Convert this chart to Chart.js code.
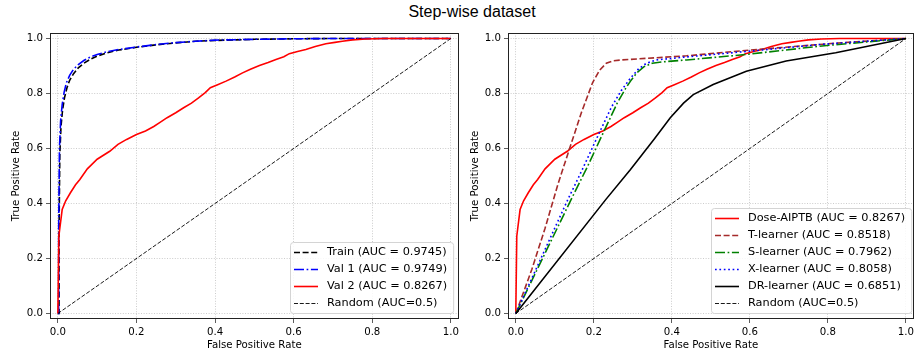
<!DOCTYPE html>
<html>
<head>
<meta charset="utf-8">
<title>Step-wise dataset</title>
<script src="https://cdn.jsdelivr.net/npm/chart.js@4.4.1/dist/chart.umd.min.js"></script>
<style>
  html, body { margin: 0; padding: 0; background: #fff; overflow: hidden; }
  #wrap { position: relative; width: 917px; height: 356px; }
  #title { position: absolute; left: 372px; width: 200px; top: 3px; line-height: 18px;
           text-align: center; font: 16px 'Liberation Sans', Arial, sans-serif; color: #000; }
  canvas { position: absolute; top: 0; }
</style>
</head>
<body>
<div id="wrap">
  <div id="title">Step-wise dataset</div>
  <canvas id="left" width="462" height="356" style="left:0"></canvas>
  <canvas id="right" width="455" height="356" style="left:462px"></canvas>
</div>
<script>
const tickValues = [0, 0.2, 0.4, 0.6, 0.8, 1.0];

const randomFpr = [0, 1];
const randomTpr = [0, 1];

const trainFpr = [0, 0.003, 0.003, 0.005, 0.008, 0.012, 0.017, 0.023, 0.03, 0.04, 0.052, 0.066, 0.082, 0.1, 0.125, 0.155, 0.2, 0.25, 0.3, 0.35, 0.4, 0.5, 0.6, 0.7, 0.85, 1.0];
const trainTpr = [0, 0, 0.3, 0.58, 0.68, 0.74, 0.785, 0.82, 0.848, 0.872, 0.893, 0.91, 0.924, 0.936, 0.948, 0.958, 0.968, 0.977, 0.984, 0.99, 0.993, 0.997, 0.999, 1.0, 1.0, 1.0];

const val1Fpr = [0, 0.002, 0.002, 0.004, 0.007, 0.011, 0.016, 0.022, 0.03, 0.04, 0.052, 0.066, 0.082, 0.1, 0.125, 0.155, 0.2, 0.25, 0.3, 0.35, 0.4, 0.5, 0.6, 0.7, 0.85, 1.0];
const val1Tpr = [0, 0, 0.3, 0.6, 0.7, 0.76, 0.805, 0.84, 0.866, 0.888, 0.905, 0.92, 0.932, 0.942, 0.952, 0.96, 0.969, 0.978, 0.985, 0.99, 0.994, 0.997, 0.999, 1.0, 1.0, 1.0];

// Val 2 and Dose-AIPTB are the same curve
const val2Fpr = [0, 0.0025, 0.005, 0.011, 0.02, 0.032, 0.045, 0.056, 0.075, 0.1, 0.132, 0.153, 0.175, 0.2, 0.223, 0.244, 0.26, 0.278, 0.3, 0.32, 0.34, 0.358, 0.375, 0.388, 0.405, 0.428, 0.45, 0.47, 0.49, 0.513, 0.535, 0.555, 0.575, 0.589, 0.61, 0.631, 0.655, 0.682, 0.705, 0.724, 0.75, 0.783, 0.83, 0.9, 1.0];
const val2Tpr = [0, 0.281, 0.31, 0.378, 0.41, 0.439, 0.468, 0.487, 0.526, 0.561, 0.59, 0.615, 0.633, 0.651, 0.664, 0.68, 0.695, 0.712, 0.73, 0.748, 0.765, 0.784, 0.803, 0.821, 0.831, 0.845, 0.86, 0.875, 0.888, 0.902, 0.913, 0.924, 0.934, 0.945, 0.953, 0.96, 0.971, 0.981, 0.986, 0.99, 0.995, 0.998, 1.0, 1.0, 1.0];

const tFpr = [0, 0.041, 0.075, 0.108, 0.137, 0.168, 0.197, 0.215, 0.232, 0.25, 0.27, 0.438, 0.6, 0.82, 1.0];
const tTpr = [0, 0.16, 0.31, 0.47, 0.596, 0.73, 0.84, 0.885, 0.91, 0.919, 0.922, 0.937, 0.958, 0.983, 1.0];

const sFpr = [0, 0.142, 0.184, 0.225, 0.26, 0.28, 0.294, 0.31, 0.328, 0.35, 0.375, 0.438, 0.591, 0.778, 1.0];
const sTpr = [0, 0.415, 0.535, 0.66, 0.765, 0.815, 0.845, 0.875, 0.897, 0.91, 0.915, 0.922, 0.942, 0.972, 1.0];

const xFpr = [0, 0.132, 0.171, 0.214, 0.245, 0.27, 0.294, 0.315, 0.335, 0.36, 0.438, 0.6, 0.778, 1.0];
const xTpr = [0, 0.41, 0.525, 0.657, 0.75, 0.81, 0.856, 0.89, 0.91, 0.922, 0.933, 0.954, 0.978, 1.0];

const drFpr = [0, 0.231, 0.294, 0.354, 0.396, 0.43, 0.455, 0.506, 0.591, 0.693, 0.82, 1.0];
const drTpr = [0, 0.415, 0.524, 0.633, 0.712, 0.765, 0.796, 0.833, 0.881, 0.918, 0.948, 1.0];

Chart.defaults.font.family = "'DejaVu Sans', sans-serif";
Chart.defaults.font.size = 10;
Chart.defaults.color = '#000';

const pts = (xs, ys) => xs.map((x, i) => ({x: x, y: ys[i]}));

function series(label, xs, ys, color, width, dash) {
    return {
        label: label,
        data: pts(xs, ys),
        borderColor: color,
        backgroundColor: color,
        borderWidth: width,
        borderDash: dash,
        pointRadius: 0,
        tension: 0,
        fill: false
    };
}

const DASH = [6, 2.6];
const DASHDOT = [10, 2.6, 1.7, 2.6];
const DOT = [1.7, 2.7];
const THIN_DASH = [4, 1.8];

// box around the plot area plus a legend in the lower right corner
const frameLegend = {
    id: 'frameLegend',
    afterDatasetsDraw(chart, args, opts) {
        const ctx = chart.ctx;
        const a = chart.chartArea;
        ctx.save();
        ctx.setLineDash([]);
        ctx.strokeStyle = '#222';
        ctx.lineWidth = 1;
        ctx.strokeRect(Math.round(a.left) + 0.5, Math.round(a.top) + 0.5,
                       Math.round(a.right - a.left) - 1, Math.round(a.bottom - a.top) - 1);

        const sets = chart.data.datasets;
        ctx.font = "11.3px 'DejaVu Sans'";
        const textW = Math.max(...sets.map(d => ctx.measureText(d.label).width));
        const rowH = 17, pad = 4, sample = 24, gap = 9;
        const w = pad + sample + gap + textW + 6;
        const h = sets.length * rowH + 3;
        const x0 = Math.round(a.right - opts.inset - w);
        const y0 = Math.round(a.bottom - 6 - h);

        ctx.beginPath();
        ctx.roundRect(x0 + 0.5, y0 + 0.5, w, h, 3);
        ctx.fillStyle = 'rgba(255,255,255,0.85)';
        ctx.fill();
        ctx.strokeStyle = '#d4d4d4';
        ctx.stroke();

        sets.forEach((d, i) => {
            const y = y0 + 10 + rowH * i + 0.5;
            ctx.strokeStyle = d.borderColor;
            ctx.lineWidth = d.borderWidth;
            ctx.setLineDash(d.borderDash || []);
            ctx.beginPath();
            ctx.moveTo(x0 + pad, y);
            ctx.lineTo(x0 + pad + sample, y);
            ctx.stroke();
            ctx.setLineDash([]);
            ctx.fillStyle = '#000';
            ctx.textAlign = 'left';
            ctx.textBaseline = 'middle';
            ctx.fillText(d.label, x0 + pad + sample + gap, y);
        });
        ctx.restore();
    }
};

function rateAxis(title, horizontal, fitSize, titlePad, tickPad) {
    return {
        type: 'linear',
        min: -0.02,
        max: 1.02,
        afterBuildTicks: (scale) => { scale.ticks = tickValues.map(v => ({value: v})); },
        afterFit: (scale) => {
            if (horizontal) scale.height = fitSize; else scale.width = fitSize;
        },
        ticks: {
            padding: tickPad,
            maxRotation: 0,
            autoSkip: false,
            callback: (v) => Number(v).toFixed(1),
            font: {size: 10.2}
        },
        grid: {
            color: 'rgba(175,175,175,0.8)',
            lineWidth: 0.8,
            drawTicks: true,
            tickLength: 4,
            tickColor: '#333',
            tickWidth: 0.8,
            tickBorderDash: []
        },
        border: {display: false, dash: [1, 1.6]},
        title: {
            display: true,
            text: title,
            font: {size: 10.2},
            padding: titlePad
        }
    };
}

function rocChart(id, datasets, yWidth, yTitlePad, rightPad, inset) {
    datasets.forEach((d, i) => { d.order = datasets.length - i; });
    return new Chart(document.getElementById(id).getContext('2d'), {
        type: 'line',
        data: {datasets: datasets},
        options: {
            responsive: false,
            animation: false,
            devicePixelRatio: 1,
            layout: {padding: {top: 33, right: rightPad, left: 0, bottom: 0}},
            plugins: {
                legend: {display: false},
                tooltip: {enabled: false},
                frameLegend: {inset: inset}
            },
            scales: {
                x: rateAxis('False Positive Rate', true, 37, {top: 0, bottom: 5}, 3),
                y: rateAxis('True Positive Rate', false, yWidth, {top: yTitlePad, bottom: 0}, 3)
            }
        },
        plugins: [frameLegend]
    });
}

rocChart('left', [
    series('Train (AUC = 0.9745)', trainFpr, trainTpr, '#000000', 1.6, DASH),
    series('Val 1 (AUC = 0.9749)', val1Fpr, val1Tpr, '#0000ff', 1.6, DASHDOT),
    series('Val 2 (AUC = 0.8267)', val2Fpr, val2Tpr, '#ff0000', 1.6, []),
    series('Random (AUC=0.5)', randomFpr, randomTpr, '#000000', 0.9, THIN_DASH)
], 50, 10, 3, 6);

rocChart('right', [
    series('Dose-AIPTB (AUC = 0.8267)', val2Fpr, val2Tpr, '#ff0000', 1.6, []),
    series('T-learner (AUC = 0.8518)', tFpr, tTpr, '#a52a2a', 1.6, DASH),
    series('S-learner (AUC = 0.7962)', sFpr, sTpr, '#008000', 1.6, DASHDOT),
    series('X-learner (AUC = 0.8058)', xFpr, xTpr, '#0000ff', 1.6, DOT),
    series('DR-learner (AUC = 0.6851)', drFpr, drTpr, '#000000', 1.6, []),
    series('Random (AUC=0.5)', randomFpr, randomTpr, '#000000', 0.9, THIN_DASH)
], 46, 7, 0, 2);
</script>
</body>
</html>
